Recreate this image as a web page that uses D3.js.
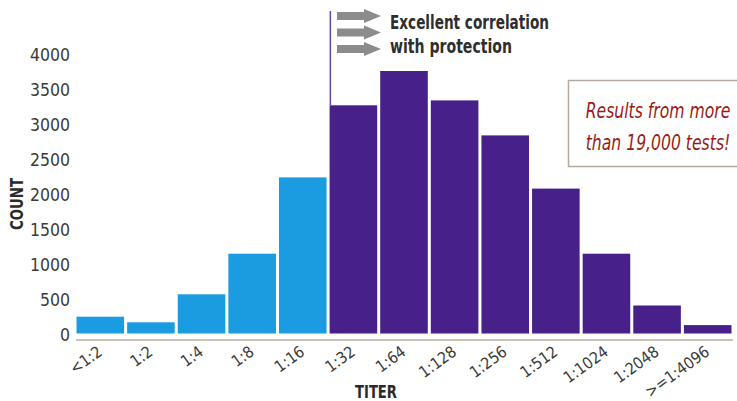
<!DOCTYPE html>
<html>
<head>
<meta charset="utf-8">
<script src="https://cdn.jsdelivr.net/npm/d3@7"></script>
<style>
  html, body { margin: 0; padding: 0; background: #ffffff; }
  svg { display: block; }
  text { font-family: "DejaVu Sans Condensed", "DejaVu Sans", sans-serif; font-stretch: condensed; }
</style>
</head>
<body>
<svg id="chart" width="737" height="401"></svg>
<script>
// Titer bins and the number of tests falling in each
const titers = ["<1:2", "1:2", "1:4", "1:8", "1:16", "1:32", "1:64", "1:128", "1:256", "1:512", "1:1024", "1:2048", ">=1:4096"];
const counts = [240, 160, 560, 1140, 2230, 3260, 3750, 3330, 2830, 2070, 1140, 400, 120];
// First titer that correlates with protection
const protectiveFrom = "1:32";
const yTicks = [0, 500, 1000, 1500, 2000, 2500, 3000, 3500, 4000];
const calloutLines = ["Excellent correlation", "with protection"];
const noteLines = ["Results from more", "than 19,000 tests!"];

const svg = d3.select("#chart");
const W = +svg.attr("width");

const x = d3.scaleBand()
  .domain(titers)
  .range([75, 733])
  .paddingInner(0.06)
  .paddingOuter(0.03);

const y = d3.scaleLinear()
  .domain([0, 4000])
  .range([333.5, 53.5]);

const protIndex = titers.indexOf(protectiveFrom);
const blue = "#1b9be0";
const purple = "#47208a";

// Bars
svg.append("g")
  .selectAll("rect")
  .data(titers)
  .join("rect")
  .attr("x", d => x(d))
  .attr("y", (d, i) => y(counts[i]))
  .attr("width", x.bandwidth())
  .attr("height", (d, i) => y(0) - y(counts[i]))
  .attr("fill", (d, i) => i >= protIndex ? purple : blue);

// Baseline under the bars
svg.append("line")
  .attr("x1", x.range()[0] + 1)
  .attr("x2", x.range()[1])
  .attr("y1", y(0) + 6.5)
  .attr("y2", y(0) + 6.5)
  .attr("stroke", "#bfae9f")
  .attr("stroke-width", 1.5);

// Y axis labels (no axis line)
const yAxis = d3.axisLeft(y).tickValues(yTicks).tickFormat(d3.format("d")).tickSize(0).tickPadding(0);
const yg = svg.append("g").attr("transform", "translate(70,1.5)").call(yAxis);
yg.select(".domain").remove();
yg.selectAll("text")
  .attr("font-size", 17.5)
  .attr("fill", "#3a3a3a")
  .style("font-family", null);

// X axis labels, rotated
const xAxis = d3.axisBottom(x).tickSize(0).tickPadding(0);
const xg = svg.append("g").call(xAxis);
xg.select(".domain").remove();
xg.selectAll(".tick")
  .attr("transform", d => `translate(${x(d) + x.bandwidth() / 2 + 3},354)`);
xg.selectAll(".tick text")
  .attr("y", 0)
  .attr("dy", 0)
  .attr("text-anchor", "end")
  .attr("transform", "rotate(-36)")
  .attr("font-size", 16)
  .attr("fill", "#3a3a3a")
  .style("font-family", null);

// Axis titles
svg.append("text")
  .attr("transform", "translate(23,204) rotate(-90)")
  .attr("text-anchor", "middle")
  .attr("font-size", 17)
  .attr("font-weight", "bold")
  .attr("fill", "#2a2a2a")
  .attr("textLength", 52)
  .attr("lengthAdjust", "spacingAndGlyphs")
  .text("COUNT");

svg.append("text")
  .attr("x", 376)
  .attr("y", 398)
  .attr("text-anchor", "middle")
  .attr("font-size", 17.5)
  .attr("font-weight", "bold")
  .attr("fill", "#2a2a2a")
  .attr("textLength", 42)
  .attr("lengthAdjust", "spacingAndGlyphs")
  .text("TITER");

// Protection threshold marker
const xProt = x(protectiveFrom);
svg.append("line")
  .attr("x1", xProt + 0.75)
  .attr("x2", xProt + 0.75)
  .attr("y1", 11)
  .attr("y2", y(counts[protIndex]))
  .attr("stroke", "#6446b0")
  .attr("stroke-width", 1.5);

// Three grey arrows
const arrowY = [16, 32.5, 49];
const arrowPath = cy => {
  const x0 = 337, xb = 364, xt = 381, sh = 4, hh = 7;
  return `M${x0},${cy - sh}H${xb}V${cy - hh}L${xt},${cy}L${xb},${cy + hh}V${cy + sh}H${x0}Z`;
};
svg.append("g")
  .selectAll("path")
  .data(arrowY)
  .join("path")
  .attr("d", d => arrowPath(d))
  .attr("fill", "#8c8c8c");

const calloutWidths = [159, 122];
svg.append("g")
  .selectAll("text")
  .data(calloutLines)
  .join("text")
  .attr("x", 390)
  .attr("y", (d, i) => 29 + i * 24)
  .attr("font-size", 19)
  .attr("font-weight", "bold")
  .attr("fill", "#2e2e2e")
  .attr("textLength", (d, i) => calloutWidths[i])
  .attr("lengthAdjust", "spacingAndGlyphs")
  .text(d => d);

// Note frame: open on the right, where it runs off the page
svg.append("path")
  .attr("d", `M${W},80.5H568.5V166.5H${W}`)
  .attr("fill", "none")
  .attr("stroke", "#b5a89c")
  .attr("stroke-width", 1.5);

// Note text, narrowed and slightly heightened
svg.append("g")
  .selectAll("text")
  .data(noteLines)
  .join("text")
  .attr("transform", (d, i) => `translate(658,${117.5 + i * 32}) scale(0.94,1.13)`)
  .attr("text-anchor", "middle")
  .attr("font-size", 18.5)
  .attr("font-style", "italic")
  .attr("fill", "#9a1b12")
  .text(d => d);
</script>
</body>
</html>
